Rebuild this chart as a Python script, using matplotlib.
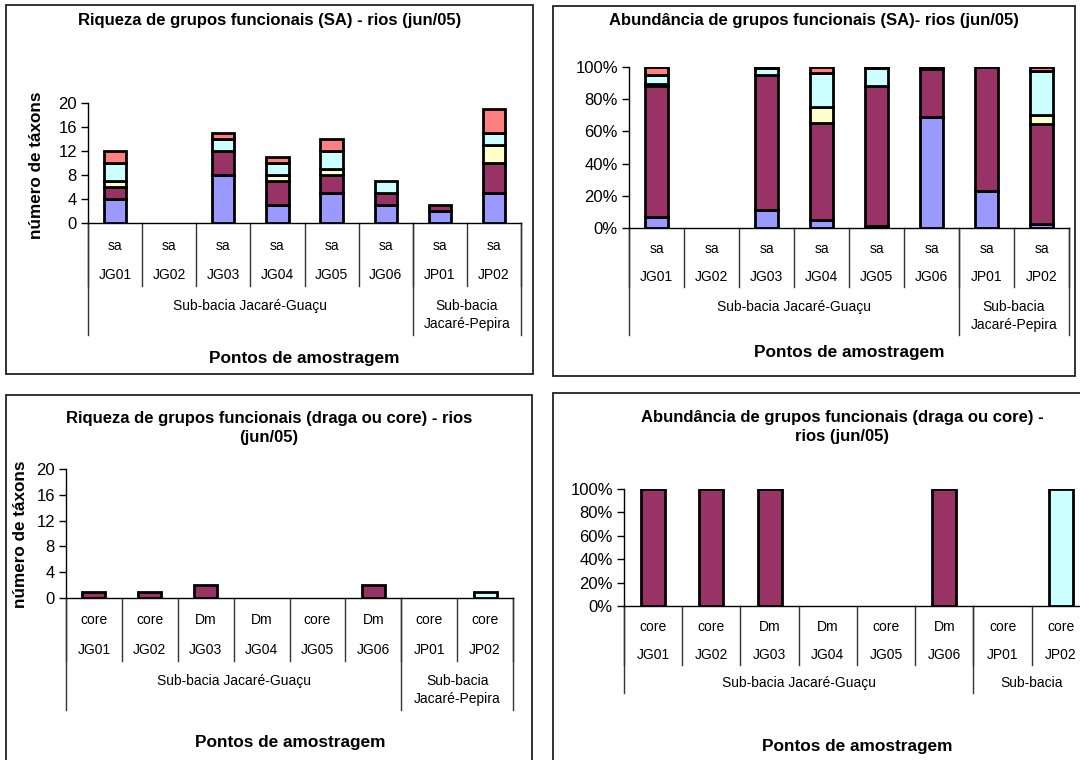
import numpy as np
import matplotlib
matplotlib.use('Agg')
import matplotlib.pyplot as plt
from matplotlib.patches import Rectangle
from matplotlib.lines import Line2D
from matplotlib.transforms import Affine2D, blended_transform_factory
from matplotlib.ticker import PercentFormatter

plt.rcParams['font.family'] = ['Liberation Sans', 'DejaVu Sans']

W, H = 1080, 760

#%% dados
pontos = ['JG01', 'JG02', 'JG03', 'JG04', 'JG05', 'JG06', 'JP01', 'JP02']
metodo_sa = ['sa', 'sa', 'sa', 'sa', 'sa', 'sa', 'sa', 'sa']
metodo_core = ['core', 'core', 'Dm', 'Dm', 'core', 'Dm', 'core', 'core']
sub_bacias = ['Sub-bacia Jacaré-Guaçu', 'Sub-bacia\nJacaré-Pepira']
sub_bacias_br = ['Sub-bacia Jacaré-Guaçu', 'Sub-bacia']   # cortado no original
n_por_bacia = [6, 2]

cores_grupos = ['#9999FF', '#993366', '#FFFFCC', '#CCFFFF', '#FF8080']

# riqueza (SA) - numero de taxons por grupo funcional
riq_sa_g1 = [4, 0, 8, 3, 5, 3, 2, 5]
riq_sa_g2 = [2, 0, 4, 4, 3, 2, 1, 5]
riq_sa_g3 = [1, 0, 0, 1, 1, 0, 0, 3]
riq_sa_g4 = [3, 0, 2, 2, 3, 2, 0, 2]
riq_sa_g5 = [2, 0, 1, 1, 2, 0, 0, 4]

# abundancia (SA) - %
abu_sa_g1 = [7, 0, 11, 5, 1.5, 69, 23, 2.5]
abu_sa_g2 = [81, 0, 84, 60, 86.5, 30, 77, 62]
abu_sa_g3 = [1.5, 0, 0, 10, 0.5, 0, 0, 5.5]
abu_sa_g4 = [5.5, 0, 4.5, 21.5, 11, 1, 0, 27.3]
abu_sa_g5 = [5, 0, 0.5, 3.5, 0.5, 0, 0, 2.7]

# draga ou core
riq_core_g2 = [1, 1, 2, 0, 0, 2, 0, 0]
riq_core_g4 = [0, 0, 0, 0, 0, 0, 0, 1]
abu_core_g2 = [100, 100, 100, 0, 0, 100, 0, 0]
abu_core_g4 = [0, 0, 0, 0, 0, 0, 0, 100]


fig = plt.figure(figsize=(W / 100, H / 100), dpi=100)
pix = Affine2D().scale(1.0 / W, -1.0 / H).translate(0, 1) + fig.transFigure


def add_panel(box, ax_px):
    # box: (x0, y0, x1, y1) em pixels, ax_px: (x0, x1, ytop, ybase)
    x0, y0, x1, y1 = box
    fig.patches.append(Rectangle((x0, y1), x1 - x0, y0 - y1, transform=pix,
                                 fill=False, edgecolor='#222222', lw=1.3))
    ax0, ax1, yt, yb = ax_px
    ax = fig.add_axes([ax0 / W, 1 - yb / H, (ax1 - ax0) / W, (yb - yt) / H])
    for s in ['top', 'right']:
        ax.spines[s].set_visible(False)
    ax.spines['left'].set_linewidth(1.0)
    ax.spines['bottom'].set_linewidth(1.0)
    ax.tick_params(axis='y', direction='out', length=5, width=1, labelsize=12, pad=3)
    ax.set_xticks([])
    ax.set_xlim(-0.5, len(pontos) - 0.5)
    return ax


def stacked(ax, series, percent=False):
    series = [np.asarray(s, dtype=float) for s in series]
    if percent:
        tot = np.sum(series, axis=0)
        tot[tot == 0] = 1
        series = [s / tot * 100 for s in series]
    x = np.arange(len(pontos))
    base = np.zeros(len(pontos))
    for s, c in zip(series, cores_grupos):
        m = s > 0
        if m.any():
            ax.bar(x[m], s[m], bottom=base[m], width=0.41, color=c,
                   edgecolor='black', linewidth=2.0, zorder=3)
        base = base + s


def cat_labels(ax, lvl1, lvl2, grupos, rows):
    y1, y2, ysep, yg, ygsep = rows
    tr = blended_transform_factory(ax.transData, pix)
    for i in range(len(pontos)):
        ax.text(i, y1, lvl1[i], transform=tr, ha='center', va='center', fontsize=10)
        ax.text(i, y2, lvl2[i], transform=tr, ha='center', va='center', fontsize=10)
    base_y = H - ax.transData.transform((0, 0))[1]
    for i in range(len(pontos) + 1):
        ax.add_line(Line2D([i - 0.5, i - 0.5], [base_y, ysep], transform=tr,
                           color='#333333', lw=1, clip_on=False))
    start = 0
    bounds = [-0.5]
    for nome, n in zip(grupos, n_por_bacia):
        ax.text(start + (n - 1) / 2.0, yg - 7, nome, transform=tr, ha='center',
                va='top', fontsize=10, linespacing=1.4)
        start += n
        bounds.append(start - 0.5)
    for b in bounds:
        ax.add_line(Line2D([b, b], [base_y, ygsep], transform=tr,
                           color='#333333', lw=1, clip_on=False))


def txt(x, y, s, size=12, **kw):
    fig.text(x, y, s, transform=pix, ha='center', va='center', fontweight='bold',
             fontsize=size, linespacing=1.3, **kw)


#%% Riqueza SA
ax = add_panel((6, 5, 533, 374), (88, 521, 103, 223))
stacked(ax, [riq_sa_g1, riq_sa_g2, riq_sa_g3, riq_sa_g4, riq_sa_g5])
ax.set_ylim(0, 20)
ax.set_yticks(range(0, 21, 4))
cat_labels(ax, metodo_sa, pontos, sub_bacias, (246, 275, 286, 306, 335))
txt(270, 21, 'Riqueza de grupos funcionais (SA) - rios (jun/05)')
txt(304, 358, 'Pontos de amostragem', size=12.4)
txt(37, 165, 'número de táxons', size=12.3, rotation=90)

#%% Abundancia SA
ax = add_panel((553, 6, 1075, 376), (629, 1069, 67, 228))
stacked(ax, [abu_sa_g1, abu_sa_g2, abu_sa_g3, abu_sa_g4, abu_sa_g5], percent=True)
ax.set_ylim(0, 100)
ax.set_yticks(range(0, 101, 20))
ax.yaxis.set_major_formatter(PercentFormatter(decimals=0))
cat_labels(ax, metodo_sa, pontos, sub_bacias, (249, 277, 287, 307, 335))
txt(814, 21, 'Abundância de grupos funcionais (SA)- rios (jun/05)')
txt(849, 353, 'Pontos de amostragem', size=12.4)

#%% Riqueza draga/core
ax = add_panel((6, 395, 532, 800), (66, 513, 469, 598))
stacked(ax, [np.zeros(8), riq_core_g2, np.zeros(8), riq_core_g4, np.zeros(8)])
ax.set_ylim(0, 20)
ax.set_yticks(range(0, 21, 4))
cat_labels(ax, metodo_core, pontos, sub_bacias, (620, 650, 661, 681, 710))
txt(269, 428, 'Riqueza de grupos funcionais (draga ou core) - rios\n(jun/05)')
txt(290, 743, 'Pontos de amostragem', size=12.4)
txt(21, 534, 'número de táxons', size=12.3, rotation=90)

#%% Abundancia draga/core
ax = add_panel((553, 393, 1131, 800), (624, 1090, 489, 606))
stacked(ax, [np.zeros(8), abu_core_g2, np.zeros(8), abu_core_g4, np.zeros(8)], percent=True)
ax.set_ylim(0, 100)
ax.set_yticks(range(0, 101, 20))
ax.yaxis.set_major_formatter(PercentFormatter(decimals=0))
cat_labels(ax, metodo_core, pontos, sub_bacias_br, (627, 655, 665, 683, 693))
txt(842, 427, 'Abundância de grupos funcionais (draga ou core) -\nrios (jun/05)')
txt(857, 747, 'Pontos de amostragem', size=12.4)

fig.savefig('out.png', dpi=100)
